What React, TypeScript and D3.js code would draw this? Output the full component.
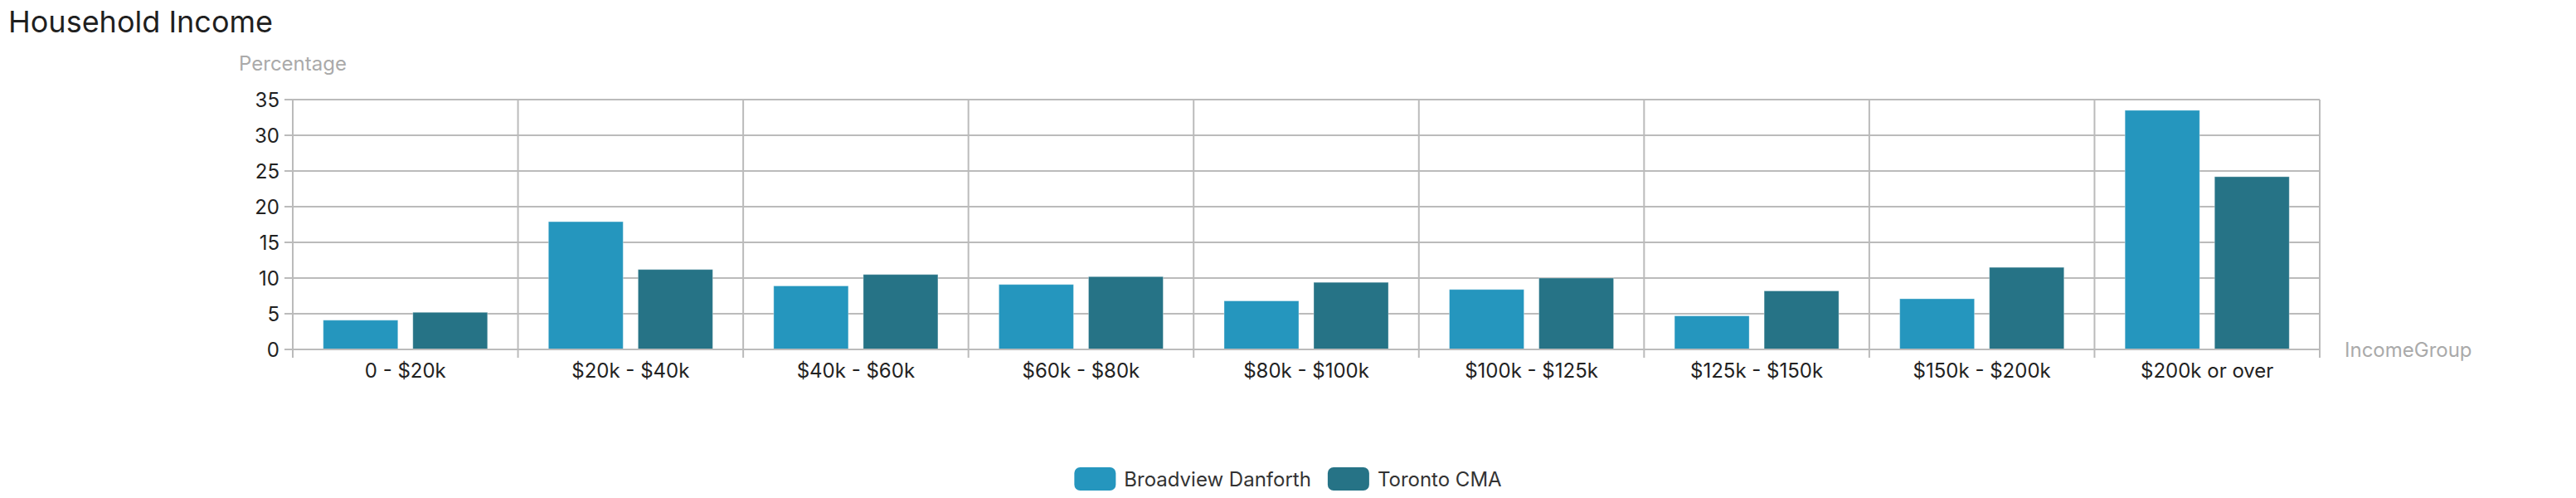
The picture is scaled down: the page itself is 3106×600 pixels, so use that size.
import React, { useEffect, useRef } from "react";
import * as d3 from "d3";

const categories = [
  "0 - $20k",
  "$20k - $40k",
  "$40k - $60k",
  "$60k - $80k",
  "$80k - $100k",
  "$100k - $125k",
  "$125k - $150k",
  "$150k - $200k",
  "$200k or over",
];
const seriesNames = ["Broadview Danforth", "Toronto CMA"];
const broadviewValues = [4.1, 17.9, 8.9, 9.1, 6.8, 8.4, 4.7, 7.1, 33.5];
const torontoValues = [5.2, 11.2, 10.5, 10.2, 9.4, 10.0, 8.2, 11.5, 24.2];
const yTicks = [0, 5, 10, 15, 20, 25, 30, 35];
const colors = ["#2596be", "#267386"];

const W = 3106;
const H = 600;
const FONT = "Inter, 'Noto Sans', sans-serif";

export default function App() {
  const ref = useRef<SVGSVGElement | null>(null);

  useEffect(() => {
    const svg = d3.select(ref.current);
    svg.selectAll("*").remove();

    const left = 353, right = 2797, top = 120, bottom = 421;
    const grid = "#bbbbbb";

    const x0 = d3.scaleBand<string>().domain(categories).range([left, right]).padding(0);
    const x1 = d3
      .scaleBand<string>()
      .domain(seriesNames)
      .range([0, x0.bandwidth()])
      .paddingInner(0.1667)
      .paddingOuter(0.34);
    const y = d3.scaleLinear().domain([0, 35]).range([bottom, top]);

    // title
    svg
      .append("text")
      .attr("x", 10)
      .attr("y", 39)
      .attr("font-family", FONT)
      .attr("font-size", 36)
      .attr("fill", "#1f1f1f")
      .text("Household Income");

    // horizontal grid
    svg
      .append("g")
      .selectAll("line")
      .data(yTicks.filter((t) => t > 0))
      .join("line")
      .attr("x1", left)
      .attr("x2", right)
      .attr("y1", (d) => y(d))
      .attr("y2", (d) => y(d))
      .attr("stroke", grid)
      .attr("stroke-width", 2);

    // vertical split lines + ticks at band boundaries
    const bounds = categories.map((c) => x0(c) as number).concat([right]);
    svg
      .append("g")
      .selectAll("line")
      .data(bounds)
      .join("line")
      .attr("x1", (d) => d)
      .attr("x2", (d) => d)
      .attr("y1", top)
      .attr("y2", bottom + 10)
      .attr("stroke", grid)
      .attr("stroke-width", 2);

    // y ticks
    svg
      .append("g")
      .selectAll("line")
      .data(yTicks)
      .join("line")
      .attr("x1", left - 10)
      .attr("x2", left)
      .attr("y1", (d) => y(d))
      .attr("y2", (d) => y(d))
      .attr("stroke", grid)
      .attr("stroke-width", 2);

    // bars
    const series = [broadviewValues, torontoValues];
    series.forEach((vals, si) => {
      svg
        .append("g")
        .selectAll("rect")
        .data(vals)
        .join("rect")
        .attr("x", (_, i) => (x0(categories[i]) as number) + (x1(seriesNames[si]) as number))
        .attr("y", (d) => y(d))
        .attr("width", x1.bandwidth())
        .attr("height", (d) => y(0) - y(d))
        .attr("fill", colors[si])
        .attr("stroke", "rgba(255,255,255,0.35)")
        .attr("stroke-width", 1);
    });

    // x axis line
    svg
      .append("line")
      .attr("x1", left)
      .attr("x2", right)
      .attr("y1", bottom)
      .attr("y2", bottom)
      .attr("stroke", grid)
      .attr("stroke-width", 2);

    // y labels
    svg
      .append("g")
      .selectAll("text")
      .data(yTicks)
      .join("text")
      .attr("x", left - 16)
      .attr("y", (d) => y(d))
      .attr("text-anchor", "end")
      .attr("dominant-baseline", "central")
      .attr("font-family", FONT)
      .attr("font-size", 24)
      .attr("fill", "#222")
      .text((d) => String(d));

    // x labels
    svg
      .append("g")
      .selectAll("text")
      .data(categories)
      .join("text")
      .attr("x", (d) => (x0(d) as number) + x0.bandwidth() / 2)
      .attr("y", 455)
      .attr("text-anchor", "middle")
      .attr("font-family", FONT)
      .attr("font-size", 24)
      .attr("fill", "#222")
      .text((d) => d);

    // axis names
    svg
      .append("text")
      .attr("x", left)
      .attr("y", 85)
      .attr("text-anchor", "middle")
      .attr("font-family", FONT)
      .attr("font-size", 24)
      .attr("fill", "#aaaaaa")
      .text("Percentage");
    svg
      .append("text")
      .attr("x", right + 30)
      .attr("y", bottom)
      .attr("dominant-baseline", "central")
      .attr("font-family", FONT)
      .attr("font-size", 24)
      .attr("fill", "#aaaaaa")
      .text("IncomeGroup");

    // legend
    const lg = svg.append("g");
    const items = seriesNames.map((name, i) => {
      const g = lg.append("g");
      g.append("rect")
        .attr("x", 0)
        .attr("y", -14)
        .attr("width", 50)
        .attr("height", 28)
        .attr("rx", 7)
        .attr("fill", colors[i]);
      const t = g
        .append("text")
        .attr("x", 60)
        .attr("y", 0)
        .attr("dominant-baseline", "central")
        .attr("font-family", FONT)
        .attr("font-size", 24)
        .attr("fill", "#333")
        .text(name);
      const tw = (t.node() as SVGTextElement).getComputedTextLength();
      return { g, w: 60 + tw };
    });
    const total = items.reduce((s, it) => s + it.w, 0) + 20 * (items.length - 1);
    let cx = W / 2 - total / 2;
    items.forEach((it) => {
      it.g.attr("transform", `translate(${cx},577)`);
      cx += it.w + 20;
    });
  }, []);

  return (
    <svg
      ref={ref}
      width={W}
      height={H}
      style={{ position: "absolute", left: 0, top: 0, background: "#fff" }}
    />
  );
}
